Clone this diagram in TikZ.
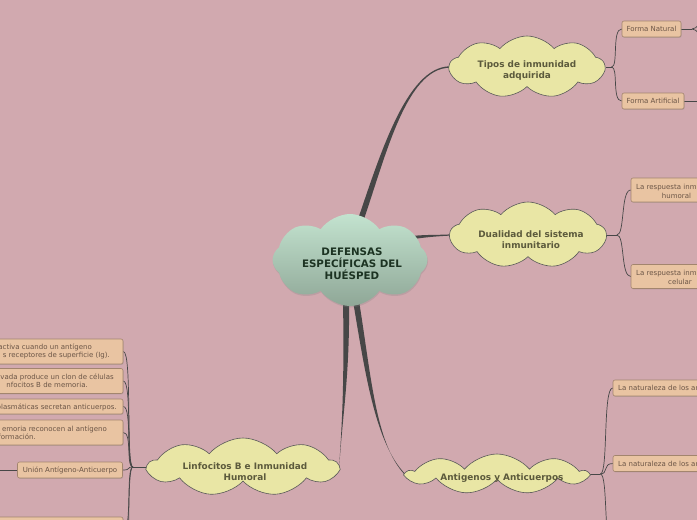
\documentclass[tikz,border=0pt]{standalone}
\usepackage{fontspec}
\setmainfont{DejaVu Sans}
\usetikzlibrary{shapes.symbols,shadows,calc}
\definecolor{bgc}{HTML}{D1A9AF}
\definecolor{topicfill}{HTML}{E9E6A5}
\definecolor{topictext}{HTML}{5C5A3C}
\definecolor{boxfill}{HTML}{E9C4A2}
\definecolor{boxdraw}{HTML}{A3856E}
\definecolor{boxtext}{HTML}{6B5546}
\definecolor{conn}{HTML}{474747}
\definecolor{ctop}{HTML}{C3E3CF}
\definecolor{cbot}{HTML}{8FA797}
\definecolor{ctext}{HTML}{1C3322}
\pgfdeclarelayer{bg}\pgfdeclarelayer{back}\pgfsetlayers{bg,back,main}
\tikzset{
 centralcloud/.style={cloud, cloud puffs=8, cloud puff arc=110, cloud ignores aspect, top color=ctop, bottom color=cbot, draw=none, inner sep=0pt, drop shadow={shadow xshift=0.5pt, shadow yshift=-1.5pt, opacity=0.25}},
 centraltext/.style={inner sep=0pt, text=ctext, font=\fontsize{10.3}{12}\selectfont\bfseries, align=center},
 topiccloud/.style={cloud, cloud puffs=9, cloud puff arc=100, cloud ignores aspect, fill=topicfill, draw=conn!90, line width=0.6pt, inner sep=0pt},
 topictxt/.style={inner sep=0pt, text=topictext, font=\fontsize{8.9}{11}\selectfont\bfseries, align=center},
 subbox/.style={rectangle, rounded corners=2pt, fill=boxfill, draw=boxdraw, line width=0.6pt, inner sep=0pt, text=boxtext, font=\fontsize{7}{8.4}\selectfont, drop shadow={shadow xshift=0.6pt, shadow yshift=-0.8pt, opacity=0.3}},
 boxtxt/.style={inner sep=0pt, text=boxtext, font=\fontsize{7}{8.4}\selectfont},
 subline/.style={draw=conn, line width=0.7pt},
 taper/.style={fill=conn, draw=none}
}
\begin{document}
\begin{tikzpicture}[x=1pt,y=-1pt]
\useasboundingbox (0,0) rectangle (697,520);
\begin{pgfonlayer}{bg}
\fill[bgc] (0,0) rectangle (697,520);
\end{pgfonlayer}

% central
\node[centralcloud, minimum width=155pt, minimum height=92pt] (c) at (350,260) {};
\node[centraltext] (ct) at (352,264) {DEFENSAS\\ESPECÍFICAS DEL\\HUÉSPED};

% topics
\node[topiccloud, minimum width=155pt, minimum height=62pt] (t1) at (527,67) {};
\node[topictxt] (t1t) at (527,71) {Tipos de inmunidad\\adquirida};
\node[topiccloud, minimum width=156pt, minimum height=66pt] (t2) at (528,235) {};
\node[topictxt] (t2t) at (531,240) {Dualidad del sistema\\inmunitario};
\node[topiccloud, minimum width=180pt, minimum height=40pt] (t3) at (497,474) {};
\node[topictxt] (t3t) at (502,478.5) {Antigenos y Anticuerpos};
\node[topiccloud, minimum width=190pt, minimum height=58pt] (t4) at (243,467) {};
\node[topictxt] (t4t) at (245,472) {Linfocitos B e Inmunidad\\Humoral};

% right boxes
\node[subbox, minimum width=59pt, minimum height=16pt] (fn) at (651.5,29) {Forma Natural};
\node[subbox, minimum width=62pt, minimum height=16pt] (fa) at (653,101) {Forma Artificial};
\node[subbox, minimum width=100pt, minimum height=24pt] (r1) at (681,190) {};
\node[boxtxt, anchor=base west] (r1a) at (636,189.5) {La respuesta inm};
\node[boxtxt, anchor=base] (r1b) at (676.5,198) {humoral};
\node[subbox, minimum width=100pt, minimum height=24pt] (r2) at (681,276.5) {};
\node[boxtxt, anchor=base west] (r2a) at (636,275.5) {La respuesta inm};
\node[boxtxt, anchor=base] (r2b) at (680,284) {celular};
\node[subbox, minimum width=100pt, minimum height=16pt] (r3) at (663,388) {};
\node[boxtxt, anchor=base west] (r3a) at (618,390.5) {La naturaleza de los an};
\node[subbox, minimum width=100pt, minimum height=16pt] (r4) at (663,463.5) {};
\node[boxtxt, anchor=base west] (r4a) at (618,466) {La naturaleza de los an};

% left boxes
\node[subbox, minimum width=183pt, minimum height=25pt] (l1) at (31.5,351.5) {};
\node[boxtxt, anchor=base east] (l1a) at (92,349.5) {activa cuando un antígeno};
\node[boxtxt, anchor=base east] (l1b) at (110,357.5) {s receptores de superficie (Ig).};
\node[subbox, minimum width=183pt, minimum height=25pt] (l2) at (31.5,381) {};
\node[boxtxt, anchor=base east] (l2a) at (114,379) {ivada produce un clon de células};
\node[boxtxt, anchor=base east] (l2b) at (88,387.5) {nfocitos B de memoria.};
\node[subbox, minimum width=183pt, minimum height=15pt] (l3) at (31.5,406.5) {};
\node[boxtxt, anchor=base east] (l3a) at (117,409.5) {plasmáticas secretan anticuerpos.};
\node[subbox, minimum width=183pt, minimum height=25pt] (l4) at (31.5,432.5) {};
\node[boxtxt, anchor=base east] (l4a) at (107,431) {emoria reconocen al antígeno};
\node[boxtxt, anchor=base east] (l4b) at (36,439.5) {formación.};
\node[subbox, minimum width=105pt, minimum height=16pt] (l5) at (70,470) {Unión Antígeno-Anticuerpo};
\node[subbox, minimum width=183pt, minimum height=28pt] (l6) at (31.5,531) {};

% hubs and free ends
\coordinate (h1) at ($(t1.east)+(6,0)$);
\coordinate (h2) at ($(t2.east)+(10,0)$);
\coordinate (h3) at ($(t3.east)+(10,0)$);
\coordinate (h4) at ($(t4.west)+(-13,0)$);
\coordinate (fnh) at (692,29);
\coordinate (fnu) at (718,0);
\coordinate (fnd) at (718,58);
\coordinate (faoff) at (710,101);
\coordinate (r5) at (613,550);
\coordinate (l7) at (123,575);
\coordinate (l5off) at (-10,470);

\begin{pgfonlayer}{back}
% tapered main connectors
\fill[taper] ($(c.center)+(7,-38)$) .. controls +(23,-67) and +(-43,1) .. ($(t1.west)+(1,-0.7)$)
  -- ($(t1.west)+(1,0.7)$) .. controls +(-43,1) and +(23,-67) .. ($(c.center)+(13,-38)$) -- cycle;
\fill[taper] ($(c.center)+(50,-22)$) .. controls +(20,-4) and +(-20,1) .. ($(t2.west)+(1,-0.6)$)
  -- ($(t2.west)+(1,0.6)$) .. controls +(-20,1) and +(20,-3) .. ($(c.center)+(50,-19)$) -- cycle;
\fill[taper] ($(c.center)+(-7,35)$) .. controls +(1,80) and +(4,-60) .. ($(t4.east)+(-1,-0.6)$)
  -- ($(t4.east)+(-1,0.6)$) .. controls +(4,-60) and +(1,80) .. ($(c.center)+(-1,35)$) -- cycle;
\fill[taper] ($(c.center)+(2,35)$) .. controls +(13,77) and +(-30,-32) .. ($(t3.west)+(1,-0.6)$)
  -- ($(t3.west)+(1,0.6)$) .. controls +(-30,-32) and +(13,77) .. ($(c.center)+(8,35)$) -- cycle;

% sub connectors
\draw[subline] (t1.east) -- (h1);
\draw[subline] (h1) .. controls +(7,0) and +(-10,0) .. (fn.west);
\draw[subline] (h1) .. controls +(7,0) and +(-10,0) .. (fa.west);
\draw[subline] (fn.east) -- (fnh);
\draw[subline] (fnh) .. controls +(10,0) and +(-10,0) .. (fnu);
\draw[subline] (fnh) .. controls +(10,0) and +(-10,0) .. (fnd);
\draw[subline] (fa.east) -- (faoff);

\draw[subline] (t2.east) -- (h2);
\draw[subline] (h2) .. controls +(8,0) and +(-10,0) .. (r1.west);
\draw[subline] (h2) .. controls +(8,0) and +(-10,0) .. (r2.west);

\draw[subline] (t3.east) -- (h3);
\draw[subline] (h3) .. controls +(8,0) and +(-10,0) .. (r3.west);
\draw[subline] (h3) .. controls +(8,0) and +(-10,0) .. (r4.west);
\draw[subline] (h3) .. controls +(8,0) and +(-10,0) .. (r5);

\draw[subline] (t4.west) -- (h4);
\draw[subline] (h4) .. controls +(-7,0) and +(9,0) .. (l1.east);
\draw[subline] (h4) .. controls +(-7,0) and +(9,0) .. (l2.east);
\draw[subline] (h4) .. controls +(-7,0) and +(9,0) .. (l3.east);
\draw[subline] (h4) .. controls +(-7,0) and +(9,0) .. (l4.east);
\draw[subline] (h4) .. controls +(-7,0) and +(9,0) .. (l5.east);
\draw[subline] (h4) .. controls +(-7,0) and +(9,0) .. (l6.east);
\draw[subline] (h4) .. controls +(-7,0) and +(9,0) .. (l7);
\draw[subline] (l5.west) -- (l5off);
\end{pgfonlayer}
\end{tikzpicture}
\end{document}
